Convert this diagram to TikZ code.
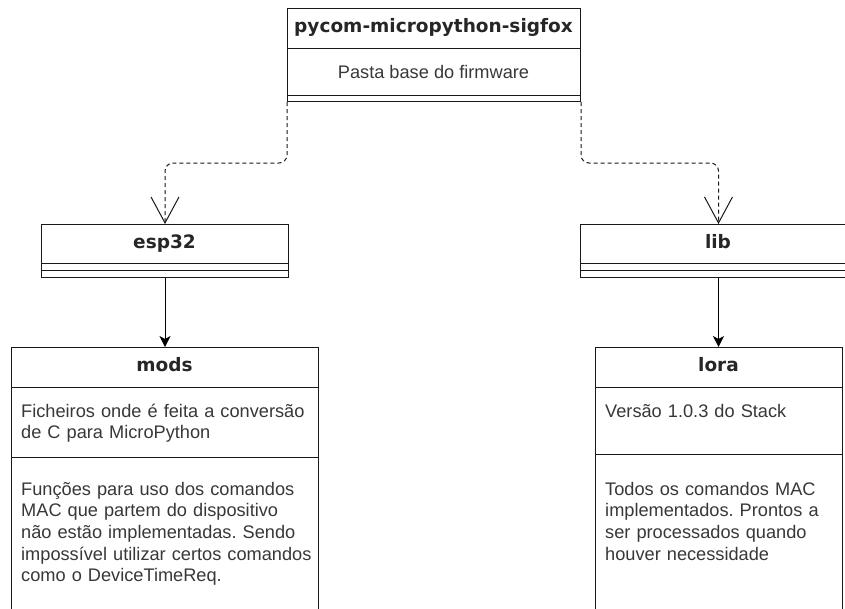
\documentclass[tikz,border=0pt]{standalone}
\usepackage{fontspec}
\setmainfont{Liberation Sans}
\newfontfamily\titlefont{DejaVu Sans}
\usetikzlibrary{arrows.meta}
\begin{document}
\frenchspacing
\begin{tikzpicture}[x=1pt,y=-1pt,
  box/.style={draw=black!90, line width=1pt, rectangle, anchor=north west, inner sep=0pt, fill=white},
  ttl/.style={font=\titlefont\bfseries\fontsize{18.5}{22}\selectfont, text=black!85, text height=13.5pt, text depth=4pt, inner sep=0pt},
  body/.style={font=\frenchspacing\fontsize{18.2}{21.7}\selectfont, text=black!78, inner sep=0pt, anchor=base west, align=left, text width=330pt},
  sepline/.style={draw=black!90, line width=1pt},
  dep/.style={draw=black!90, line width=1pt, dash pattern=on 4pt off 3pt, rounded corners=8pt, -{Straight Barb[length=26pt,width=28pt,line width=1pt]}},
  comp/.style={draw=black, line width=1pt, -{Stealth[length=11pt,width=11pt,inset=3pt]}}
]
\useasboundingbox (0,0) rectangle (845,608);
\clip (0,0) rectangle (845,608);
\fill[white] (0,0) rectangle (845,608);

% top class
\node[box, minimum width=293pt, minimum height=93pt] (top) at (287,8) {};
\draw[sepline] (287,48) -- (580,48);
\draw[sepline] (287,95) -- (580,95);
\node[ttl] (toptitle) at (433.5,28) {pycom-micropython-sigfox};
\node[body, anchor=base, text width=] (topattr) at (433.5,78) {Pasta base do firmware};

% esp32
\node[box, minimum width=247pt, minimum height=53pt] (esp) at (41,224) {};
\draw[sepline] (41,263) -- (288,263);
\draw[sepline] (41,270) -- (288,270);
\node[ttl] (esptitle) at (164.5,243.5) {esp32};

% lib
\node[box, minimum width=276pt, minimum height=53pt] (lib) at (580,224) {};
\draw[sepline] (580,263) -- (856,263);
\draw[sepline] (580,270) -- (856,270);
\node[ttl] (libtitle) at (718,243.5) {lib};

% mods
\node[box, minimum width=307pt, minimum height=280pt] (mods) at (11,347) {};
\draw[sepline] (11,387) -- (318,387);
\draw[sepline] (11,457) -- (318,457);
\node[ttl] (modstitle) at (164.5,367) {mods};
\node[body] (modsa) at (21,417) {Ficheiros onde é feita a conversão\\de C para MicroPython};
\node[body] (modsb) at (21,495) {Funções para uso dos comandos\\MAC que partem do dispositivo\\não estão implementadas. Sendo\\impossível utilizar certos comandos\\como o DeviceTimeReq.};

% lora
\node[box, minimum width=247pt, minimum height=280pt] (lora) at (595,347) {};
\draw[sepline] (595,387) -- (842,387);
\draw[sepline] (595,454) -- (842,454);
\node[ttl] (loratitle) at (718.5,367) {lora};
\node[body] (loraa) at (605,417) {Versão 1.0.3 do Stack};
\node[body] (lorab) at (605,495) {Todos os comandos MAC\\implementados. Prontos a\\ser processados quando\\houver necessidade};

% connectors
\draw[dep] (top.south west) -- ++(0,61) -| (esp.north);
\draw[dep] (top.south east) -- ++(0,61) -| (lib.north);
\draw[comp] (esp.south) -- (mods.north);
\draw[comp] (lib.south) -- (lib.south |- lora.north);
\end{tikzpicture}
\end{document}
